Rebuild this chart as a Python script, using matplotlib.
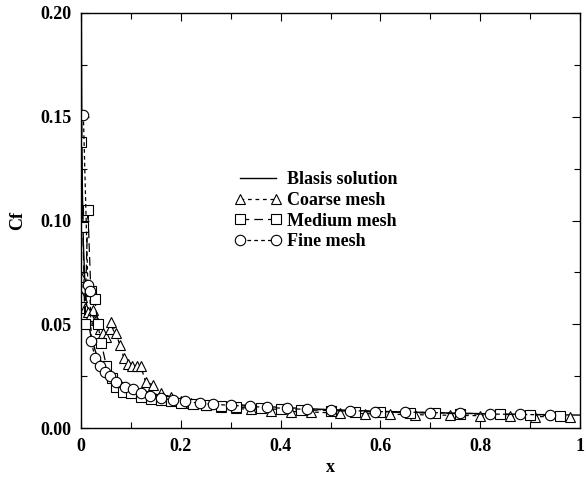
import matplotlib
matplotlib.use("Agg")
import matplotlib.pyplot as plt
from matplotlib.ticker import MultipleLocator

# values
blasius_x = [0.0008, 0.001, 0.0015, 0.002, 0.003, 0.005, 0.0075, 0.01, 0.015, 0.02, 0.03,
             0.05, 0.075, 0.1, 0.15, 0.2, 0.3, 0.4, 0.5, 0.6, 0.7, 0.8, 0.9, 1.0]
blasius_y = [0.223, 0.199, 0.163, 0.141, 0.115, 0.089, 0.073, 0.063, 0.051, 0.0445, 0.0364,
             0.0282, 0.0230, 0.0199, 0.0163, 0.0141, 0.0115, 0.0100, 0.0089, 0.0081, 0.0075,
             0.0070, 0.0066, 0.0063]

coarse_x = [0.001, 0.003, 0.008, 0.014, 0.018, 0.024, 0.03, 0.038, 0.045, 0.051, 0.058, 0.061,
            0.07, 0.078, 0.086, 0.095, 0.103, 0.112, 0.12, 0.13, 0.144, 0.16, 0.18, 0.20, 0.22,
            0.25, 0.28, 0.31, 0.34, 0.38, 0.42, 0.46, 0.52, 0.57, 0.62, 0.67, 0.74, 0.80, 0.86,
            0.91, 0.98]
coarse_y = [0.073, 0.063, 0.058, 0.056, 0.054, 0.057, 0.052, 0.048, 0.046, 0.044, 0.048, 0.051,
            0.046, 0.040, 0.034, 0.031, 0.030, 0.030, 0.030, 0.022, 0.021, 0.017, 0.015, 0.013,
            0.012, 0.011, 0.010, 0.0095, 0.009, 0.0085, 0.008, 0.0078, 0.0072, 0.007, 0.0067,
            0.0065, 0.0062, 0.006, 0.0058, 0.0056, 0.0054]

medium_x = [0.0005, 0.004, 0.008, 0.014, 0.02, 0.028, 0.034, 0.041, 0.051, 0.062, 0.071, 0.085,
            0.101, 0.121, 0.14, 0.16, 0.18, 0.20, 0.225, 0.25, 0.28, 0.31, 0.36, 0.40, 0.44,
            0.50, 0.55, 0.60, 0.66, 0.71, 0.76, 0.84, 0.90, 0.96]
medium_y = [0.138, 0.097, 0.05, 0.105, 0.066, 0.062, 0.050, 0.041, 0.030, 0.024, 0.020, 0.0175,
            0.017, 0.015, 0.014, 0.0135, 0.013, 0.012, 0.0115, 0.011, 0.0105, 0.010, 0.0095,
            0.009, 0.0088, 0.0085, 0.008, 0.0078, 0.0075, 0.0072, 0.007, 0.0066, 0.0064, 0.006]

fine_x = [0.005, 0.014, 0.018, 0.021, 0.028, 0.038, 0.048, 0.058, 0.071, 0.088, 0.104, 0.121,
          0.138, 0.16, 0.184, 0.208, 0.238, 0.264, 0.30, 0.338, 0.372, 0.412, 0.452, 0.50,
          0.54, 0.59, 0.65, 0.70, 0.76, 0.82, 0.88, 0.94]
fine_y = [0.151, 0.069, 0.066, 0.042, 0.034, 0.030, 0.027, 0.025, 0.022, 0.020, 0.0188, 0.017,
          0.0155, 0.0145, 0.0135, 0.013, 0.012, 0.0115, 0.011, 0.0105, 0.010, 0.0095, 0.009,
          0.0088, 0.0085, 0.008, 0.0078, 0.0075, 0.0072, 0.0068, 0.0066, 0.0064]

plt.rcParams["font.family"] = ["Liberation Serif", "DejaVu Serif"]
plt.rcParams["font.weight"] = "bold"

fig = plt.figure(figsize=(5.86, 4.8), dpi=100)
ax = fig.add_axes([0.138, 0.108, 0.852, 0.865])

mk = dict(color="black", markerfacecolor="white", markersize=7.5, markeredgewidth=0.8,
          linewidth=0.9)
ax.plot(blasius_x, blasius_y, "-", color="black", linewidth=1.0, label="Blasis solution")
ax.plot(coarse_x, coarse_y, marker="^", dashes=(3, 3), label="Coarse mesh", **mk)
ax.plot(medium_x, medium_y, marker="s", dashes=(7, 4), label="Medium mesh", **mk)
ax.plot(fine_x, fine_y, marker="o", dashes=(3, 2.5), label="Fine mesh", **mk)

ax.set_xlim(0, 1)
ax.set_ylim(0, 0.2)
ax.xaxis.set_minor_locator(MultipleLocator(0.1))
ax.yaxis.set_minor_locator(MultipleLocator(0.025))
ax.set_xticks([0, 0.2, 0.4, 0.6, 0.8, 1.0])
ax.set_xticklabels(["0", "0.2", "0.4", "0.6", "0.8", "1"])
ax.set_yticks([0, 0.05, 0.10, 0.15, 0.20])
ax.set_yticklabels(["0.00", "0.05", "0.10", "0.15", "0.20"])
ax.tick_params(which="both", direction="in", top=True, right=True, labelsize=13, width=0.8)
ax.tick_params(which="major", length=6, pad=7)
ax.tick_params(which="minor", length=4)
for s in ax.spines.values():
    s.set_linewidth(1.0)

ax.set_xlabel("x", fontsize=13, fontweight="bold", labelpad=3)
ax.set_ylabel("Cf", fontsize=13, fontweight="bold", labelpad=10)

ax.legend(loc="upper left", bbox_to_anchor=(0.29, 0.64), frameon=False, numpoints=2,
          handlelength=2.6, handletextpad=0.3, labelspacing=0.2, borderpad=0,
          prop={"size": 13, "weight": "bold"})

fig.savefig("out.png", dpi=100)
